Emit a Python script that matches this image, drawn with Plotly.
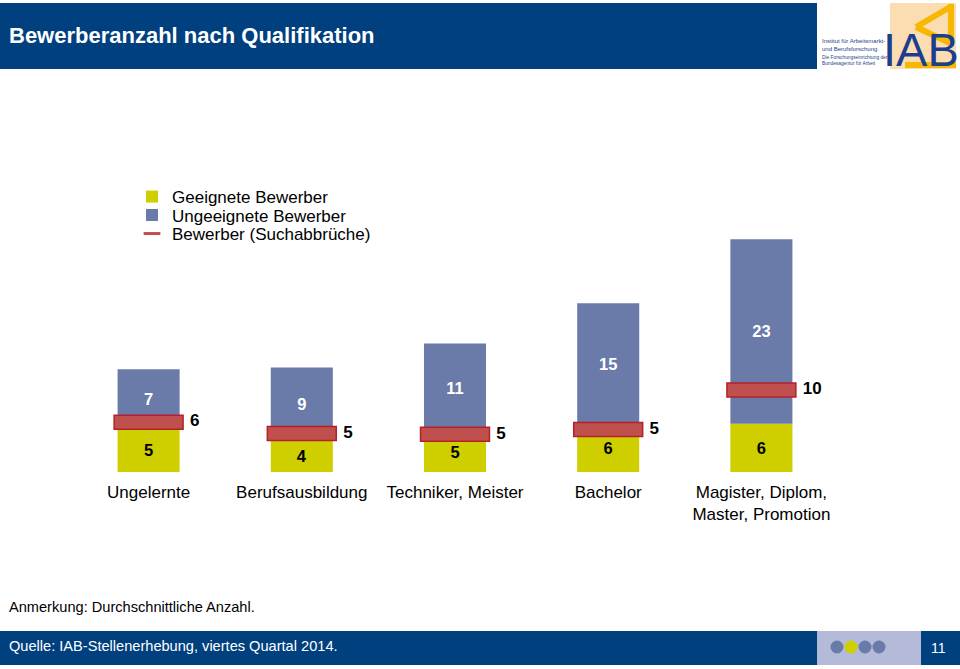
import plotly.graph_objects as go

# ---------------- data ----------------
categories = ["Ungelernte", "Berufsausbildung", "Techniker, Meister", "Bachelor",
              "Magister, Diplom,<br>Master, Promotion"]
geeignete = [5.4, 4.0, 5.0, 6.0, 6.0]          # Geeignete Bewerber
ungeeignete = [7.4, 9.0, 11.0, 15.0, 23.0]     # Ungeeignete Bewerber
suchabbrueche = [6.2, 4.8, 4.7, 5.3, 10.2]     # Bewerber (Suchabbrüche)

title_text = "Bewerberanzahl nach Qualifikation"
note_text = "Anmerkung: Durchschnittliche Anzahl."
source_text = "Quelle: IAB-Stellenerhebung, viertes Quartal 2014."
page_no = "11"

# ---------------- styling ----------------
FONT = "Liberation Sans, Arial, sans-serif"
YEL = "#CFCF00"
BLUE = "#6A7BAA"
RED = "#C0504D"
RED_EDGE = "#B3202A"
NAVY = "#01407F"
LAV = "#B3BBD9"
LOGO_BLUE = "#1B3F8E"

W, H = 960, 669
L, R, T, B = 72, 122, 100, 197
PW = W - L - R
PH = H - T - B
YMAX = PH / 8.03


def px(x):
    return (x - L) / PW


def py(y):
    return (H - B - y) / PH


xs = list(range(len(categories)))

fig = go.Figure()
fig.add_bar(
    x=xs, y=geeignete, width=0.405, name="Geeignete Bewerber", legend="legend",
    marker=dict(color=YEL, line_width=0),
    text=[f"{round(v)}" for v in geeignete], textposition="inside",
    insidetextanchor="middle", textangle=0,
    textfont=dict(color="black", size=16.5, family=FONT, weight="bold"),
    hoverinfo="skip",
)
fig.add_bar(
    x=xs, y=ungeeignete, base=geeignete, width=0.405, name="Ungeeignete Bewerber",
    legend="legend2",
    marker=dict(color=BLUE, line_width=0),
    text=[f"{round(v)}" for v in ungeeignete], textposition="inside",
    insidetextanchor="middle", textangle=0,
    textfont=dict(color="white", size=16.5, family=FONT, weight="bold"),
    hoverinfo="skip",
)
thick = 1.75
fig.add_bar(
    x=xs, y=[thick] * len(xs), base=[s - thick / 2 for s in suchabbrueche],
    width=0.45, showlegend=False,
    marker=dict(color=RED, line=dict(color=RED_EDGE, width=1.5)),
    hoverinfo="skip",
)
fig.add_scatter(
    x=[i + 0.27 for i in xs], y=suchabbrueche, mode="text",
    text=[f"{round(v)}" for v in suchabbrueche], textposition="middle right",
    textfont=dict(color="black", size=17, family=FONT, weight="bold"),
    showlegend=False, hoverinfo="skip",
)
fig.add_scatter(
    x=[None], y=[None], mode="markers", name="Bewerber (Suchabbrüche)", legend="legend3",
    marker=dict(symbol="line-ew", size=12, color=RED, line=dict(width=3, color=RED)),
)

shapes = [
    # header band
    dict(type="rect", xref="paper", yref="paper", x0=px(0), x1=px(817), y0=py(69), y1=py(3),
         fillcolor=NAVY, line_width=0, layer="below"),
    # logo background
    dict(type="rect", xref="paper", yref="paper", x0=px(890), x1=px(956), y0=py(69), y1=py(3),
         fillcolor="#FCDDB2", line_width=0, layer="below"),
    dict(type="line", xref="paper", yref="paper", x0=px(916), y0=py(27), x1=px(952), y1=py(6),
         line=dict(color="#F6B800", width=6), layer="below"),
    dict(type="line", xref="paper", yref="paper", x0=px(916), y0=py(27), x1=px(952), y1=py(44),
         line=dict(color="#F6B800", width=6), layer="below"),
    dict(type="line", xref="paper", yref="paper", x0=px(951), y0=py(4), x1=px(951), y1=py(46),
         line=dict(color="#F6B800", width=6), layer="below"),
    dict(type="line", xref="paper", yref="paper", x0=px(905), y0=py(65), x1=px(956), y1=py(65),
         line=dict(color="#F6B800", width=6), layer="below"),
    # footer band
    dict(type="rect", xref="paper", yref="paper", x0=px(0), x1=px(817), y0=py(665), y1=py(631),
         fillcolor=NAVY, line_width=0, layer="below"),
    dict(type="rect", xref="paper", yref="paper", x0=px(817), x1=px(921), y0=py(665), y1=py(631),
         fillcolor=LAV, line_width=0, layer="below"),
    dict(type="rect", xref="paper", yref="paper", x0=px(921), x1=px(960), y0=py(665), y1=py(631),
         fillcolor=NAVY, line_width=0, layer="below"),
]
for cx, col in zip([837, 851, 865, 879], [BLUE, YEL, BLUE, BLUE]):
    shapes.append(dict(type="circle", xref="paper", yref="paper",
                       x0=px(cx - 6.5), x1=px(cx + 6.5), y0=py(647 + 6.5), y1=py(647 - 6.5),
                       fillcolor=col, line_width=0, layer="below"))

annotations = [
    dict(text=f"<b>{title_text}</b>", x=px(7), y=py(36), xref="paper", yref="paper",
         xanchor="left", yanchor="middle", showarrow=False,
         font=dict(family=FONT, size=22, color="white")),
    dict(text="IAB", x=px(921), y=py(50), xref="paper", yref="paper",
         xanchor="center", yanchor="middle", showarrow=False,
         font=dict(family="Liberation Sans Narrow, Liberation Sans, sans-serif", size=47,
                   color=LOGO_BLUE)),
    dict(text="Institut für Arbeitsmarkt-<br>und Berufsforschung", x=px(820), y=py(45),
         xref="paper", yref="paper", xanchor="left", yanchor="middle", showarrow=False, align="left",
         font=dict(family=FONT, size=6, color=LOGO_BLUE)),
    dict(text="Die Forschungseinrichtung der<br>Bundesagentur für Arbeit", x=px(820), y=py(60),
         xref="paper", yref="paper", xanchor="left", yanchor="middle", showarrow=False, align="left",
         font=dict(family=FONT, size=4.8, color=LOGO_BLUE)),
    dict(text=note_text, x=px(7), y=py(607), xref="paper", yref="paper",
         xanchor="left", yanchor="middle", showarrow=False,
         font=dict(family=FONT, size=14.6, color="black")),
    dict(text=source_text, x=px(7), y=py(646), xref="paper", yref="paper",
         xanchor="left", yanchor="middle", showarrow=False,
         font=dict(family=FONT, size=14.6, color="white")),
    dict(text=page_no, x=px(938), y=py(648), xref="paper", yref="paper",
         xanchor="center", yanchor="middle", showarrow=False,
         font=dict(family=FONT, size=14, color="white")),
]

leg_common = dict(xref="paper", yref="paper", xanchor="left", yanchor="middle",
                  bgcolor="rgba(0,0,0,0)", borderwidth=0,
                  font=dict(family=FONT, size=17, color="black"),
                  itemclick=False, itemdoubleclick=False)

fig.update_layout(
    width=W, height=H,
    margin=dict(l=L, r=R, t=T, b=B, autoexpand=False),
    paper_bgcolor="white", plot_bgcolor="white",
    barmode="overlay",
    font=dict(family=FONT, size=17, color="black"),
    showlegend=True,
    legend=dict(x=px(132), y=py(197), **leg_common),
    legend2=dict(x=px(132), y=py(215.5), **leg_common),
    legend3=dict(x=px(132), y=py(234), **leg_common),
    xaxis=dict(range=[-0.5, len(categories) - 0.5], tickvals=xs, ticktext=categories,
               showgrid=False, zeroline=False, showline=False, ticks="",
               ticklabelstandoff=8,
               tickfont=dict(family=FONT, size=17, color="black"), fixedrange=True),
    yaxis=dict(range=[0, YMAX], visible=False, fixedrange=True),
    shapes=shapes, annotations=annotations,
)

fig.write_html("out.html", config={"displayModeBar": False},
               post_script="document.body.style.margin='0';")
